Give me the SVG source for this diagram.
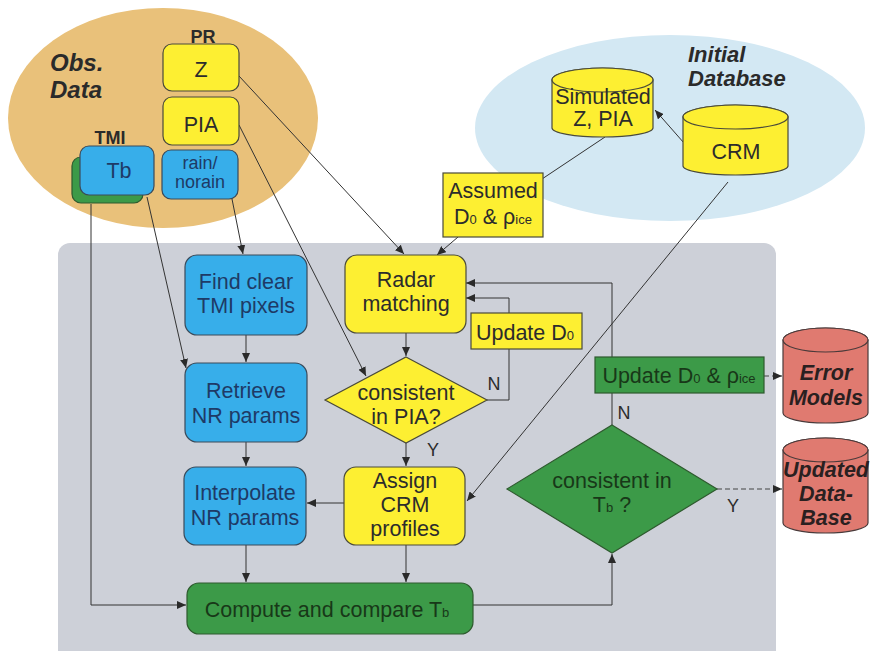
<svg xmlns="http://www.w3.org/2000/svg" width="872" height="651" viewBox="0 0 872 651">
<style>
text{font-family:"Liberation Sans",Arial,sans-serif;text-anchor:middle}
.t{font-size:21.5px}
.s{font-size:18px}
.dk{fill:#2c2c2c}
.bt{fill:#1e3a66}
.gt{fill:#183818}
.hd{font-weight:bold;font-style:italic;fill:#2a2a2a;text-anchor:start}
.lb{font-weight:bold;font-size:18px;fill:#2a2a2a}
.y{fill:#fdef32;stroke:#4a4a3a;stroke-width:1.2}
.b{fill:#37aeea;stroke:#3a4a5a;stroke-width:1.2}
.g{fill:#3c9a48;stroke:#2e5a2e;stroke-width:1.2}
.r{fill:#e07a70;stroke:#4a3a3a;stroke-width:1.2}
.c{fill:none;stroke:#333;stroke-width:1}
.d{fill:none;stroke:#444;stroke-width:1.2;stroke-dasharray:5,3}
.sub{font-size:13px}
.rt{font-weight:bold;font-style:italic;fill:#2a2020}
</style>
<defs>
<marker id="a" markerUnits="userSpaceOnUse" markerWidth="10" markerHeight="8" refX="9" refY="4" orient="auto">
<path d="M0,0 L9,4 L0,8 Z" fill="#2a2a2a"/>
</marker>
</defs>
<rect width="872" height="651" fill="#fff"/>
<g id="obs-data">
<ellipse cx="163" cy="118" rx="155" ry="110" fill="#e9c17a"/>
<text class="hd" x="50" y="71" font-size="24">Obs.</text>
<text class="hd" x="50" y="98" font-size="24">Data</text>
</g>
<g id="initial-db">
<ellipse cx="670" cy="128" rx="195" ry="93" fill="#d3e8f3"/>
<text class="hd" x="688" y="62" font-size="22">Initial</text>
<text class="hd" x="688" y="86" font-size="22">Database</text>
</g>
<g id="panel">
<rect x="58" y="243" width="718" height="430" rx="12" fill="#cdd0d8"/>
</g>
<g id="connectors">
<path class="c" d="M239,76 L404,254" marker-end="url(#a)"/>
<path class="c" d="M458,237 L437,255" marker-end="url(#a)"/>
<path class="c" d="M605,137 L542,179"/>
<path class="c" d="M684,143 L655,110" marker-end="url(#a)"/>
<path class="c" d="M728,182 L467,501" marker-end="url(#a)"/>
<path class="c" d="M239,125 L366,376" marker-end="url(#a)"/>
<path class="c" d="M232,199 L243,254" marker-end="url(#a)"/>
<path class="c" d="M147,197 L186,368" marker-end="url(#a)"/>
<path class="c" d="M91,204 L91,605 L186,605" marker-end="url(#a)"/>
<path class="c" d="M246,335 L246,362" marker-end="url(#a)"/>
<path class="c" d="M246,442 L246,466" marker-end="url(#a)"/>
<path class="c" d="M246,545 L246,582" marker-end="url(#a)"/>
<path class="c" d="M406,333 L406,356" marker-end="url(#a)"/>
<path class="c" d="M406,443 L406,466" marker-end="url(#a)"/>
<path class="c" d="M344,503 L307,503" marker-end="url(#a)"/>
<path class="c" d="M406,545 L406,582" marker-end="url(#a)"/>
<path class="c" d="M487,400 L509,400 L509,298 L466,298" marker-end="url(#a)"/>
<path class="c" d="M473,605 L612,605 L612,554" marker-end="url(#a)"/>
<path class="c" d="M612,425 L612,283 L466,283" marker-end="url(#a)"/>
<path class="d" d="M764,376 L782,376" marker-end="url(#a)"/>
<path class="d" d="M717,489 L782,489" marker-end="url(#a)"/>
<text class="s dk" x="494" y="390">N</text>
<text class="s dk" x="624" y="419">N</text>
<text class="s dk" x="433" y="456">Y</text>
<text class="s dk" x="733" y="512">Y</text>
</g>
<g id="pr-label"><text class="lb" x="203" y="43">PR</text></g>
<g id="z"><rect class="y" x="163" y="44" width="76" height="47" rx="9"/><text class="t dk" x="201" y="77">Z</text></g>
<g id="pia"><rect class="y" x="163" y="97" width="76" height="48" rx="9"/><text class="t dk" x="201" y="132">PIA</text></g>
<g id="rain"><rect class="b" x="162" y="150" width="76" height="49" rx="9"/><text class="s bt" x="200" y="169">rain/</text><text class="s bt" x="200" y="188">norain</text></g>
<g id="tmi-label"><text class="lb" x="110" y="144">TMI</text></g>
<g id="tb"><rect x="72" y="157" width="71" height="46" rx="9" fill="#3c9a48" stroke="#2e5a2e" stroke-width="1.2"/><rect class="b" x="80" y="146" width="74" height="49" rx="9"/><text class="t bt" x="119" y="178">Tb</text></g>
<g id="simulated"><path class="y" d="M552,80 L552,128 A50.5,9 0 0 0 653,128 L653,80 A50.5,12 0 0 0 552,80 Z"/><ellipse class="y" cx="602.5" cy="80" rx="50.5" ry="12"/><text class="t dk" x="603" y="104">Simulated</text><text class="t dk" x="603" y="126">Z, PIA</text></g>
<g id="crm"><path class="y" d="M683,117 L683,166 A52.5,9 0 0 0 788,166 L788,117 A52.5,12 0 0 0 683,117 Z"/><ellipse class="y" cx="735.5" cy="117" rx="52.5" ry="12"/><text class="t dk" x="736" y="159" font-size="22.5">CRM</text></g>
<g id="assumed"><rect class="y" x="443" y="173" width="100" height="64"/><text class="t dk" x="493" y="198">Assumed</text><text class="t dk" x="493" y="224">D<tspan class="sub">0</tspan> &amp; ρ<tspan class="sub">ice</tspan></text></g>
<g id="find-clear"><rect class="b" x="185" y="255" width="122" height="80" rx="12"/><text class="t bt" x="246" y="289">Find clear</text><text class="t bt" x="246" y="313">TMI pixels</text></g>
<g id="retrieve"><rect class="b" x="185" y="363" width="122" height="79" rx="12"/><text class="t bt" x="246" y="398">Retrieve</text><text class="t bt" x="246" y="423">NR params</text></g>
<g id="interpolate"><rect class="b" x="184" y="467" width="122" height="78" rx="12"/><text class="t bt" x="245" y="500">Interpolate</text><text class="t bt" x="245" y="525">NR params</text></g>
<g id="radar"><rect class="y" x="345" y="255" width="121" height="78" rx="12"/><text class="t dk" x="406" y="287">Radar</text><text class="t dk" x="406" y="311">matching</text></g>
<g id="pia-check"><polygon class="y" points="406,357 487,400 406,443 325,400"/><text class="t dk" x="406" y="400">consistent</text><text class="t dk" x="406" y="424">in PIA?</text></g>
<g id="update-d0"><rect class="y" x="471" y="313" width="111" height="36"/><text class="t dk" x="525" y="340" font-size="22.5">Update D<tspan class="sub">0</tspan></text></g>
<g id="assign"><rect class="y" x="344" y="467" width="121" height="78" rx="12"/><text class="t dk" x="405" y="488">Assign</text><text class="t dk" x="405" y="512">CRM</text><text class="t dk" x="405" y="536">profiles</text></g>
<g id="compute"><rect class="g" x="187" y="583" width="286" height="51" rx="12"/><text class="t gt" x="327" y="617">Compute and compare T<tspan class="sub">b</tspan></text></g>
<g id="tb-check"><polygon class="g" points="612,425 717,489 612,553 507,489"/><text class="t gt" x="612" y="488">consistent in</text><text class="t gt" x="612" y="512">T<tspan class="sub">b</tspan> ?</text></g>
<g id="update-d0-rho"><rect class="g" x="595" y="357" width="169" height="36"/><text class="t gt" x="679" y="383" font-size="22">Update D<tspan class="sub">0</tspan> &amp; ρ<tspan class="sub">ice</tspan></text></g>
<g id="error-models"><path class="r" d="M783,340 L783,413 A42.5,10 0 0 0 868,413 L868,340 A42.5,12 0 0 0 783,340 Z"/><ellipse class="r" cx="825.5" cy="340" rx="42.5" ry="12"/><text class="t rt" x="826" y="380">Error</text><text class="t rt" x="826" y="405">Models</text></g>
<g id="updated-db"><path class="r" d="M783,450 L783,523 A42.5,10 0 0 0 868,523 L868,450 A42.5,12 0 0 0 783,450 Z"/><ellipse class="r" cx="825.5" cy="450" rx="42.5" ry="12"/><text class="t rt" x="826" y="477">Updated</text><text class="t rt" x="826" y="501">Data-</text><text class="t rt" x="826" y="525">Base</text></g>
</svg>
